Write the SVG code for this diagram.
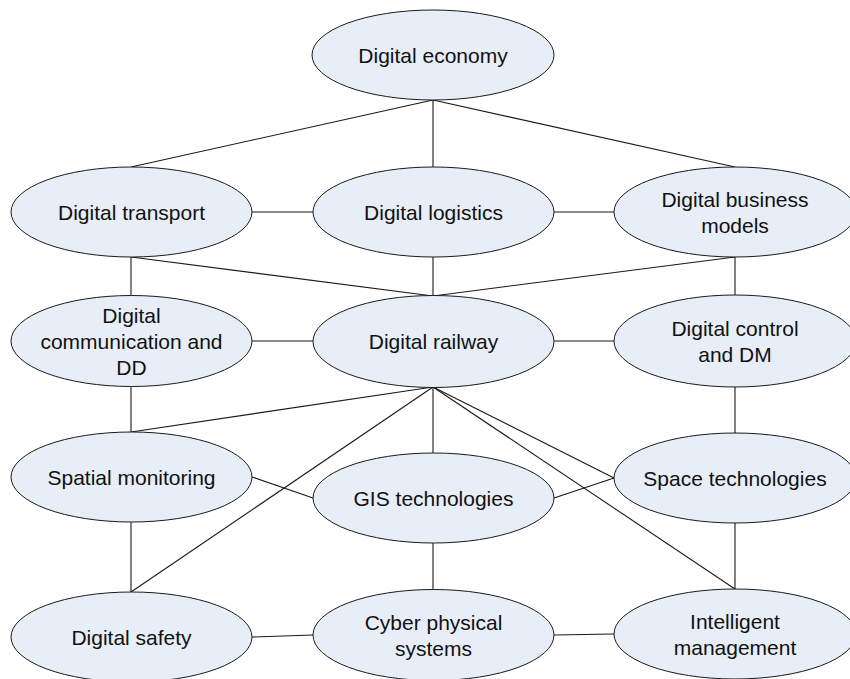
<svg xmlns="http://www.w3.org/2000/svg" width="850" height="679" viewBox="0 0 850 679">
  <style>
    .node ellipse { fill: #e8eef7; stroke: #1a1a1a; stroke-width: 1; }
    .node text { font-family: "Liberation Sans", Arial, sans-serif; font-size: 21px; fill: #111; text-anchor: middle; }
    #connectors line { stroke: #1a1a1a; stroke-width: 1.1; }
  </style>
  <rect width="850" height="679" fill="#ffffff"/>

  <g id="connectors">
    <line x1="433" y1="100" x2="131" y2="167"/>
    <line x1="433" y1="100" x2="433" y2="167"/>
    <line x1="433" y1="100" x2="735" y2="167"/>
    <line x1="252" y1="212" x2="313" y2="212"/>
    <line x1="554" y1="212" x2="614" y2="212"/>
    <line x1="131" y1="257" x2="433" y2="296"/>
    <line x1="433" y1="257" x2="433" y2="296"/>
    <line x1="735" y1="257" x2="433" y2="296"/>
    <line x1="131" y1="257" x2="131" y2="296"/>
    <line x1="735" y1="257" x2="735" y2="296"/>
    <line x1="252" y1="341" x2="313" y2="341"/>
    <line x1="554" y1="341" x2="614" y2="341"/>
    <line x1="131" y1="387" x2="131" y2="432"/>
    <line x1="735" y1="387" x2="735" y2="433"/>
    <line x1="433" y1="387" x2="131" y2="432"/>
    <line x1="433" y1="387" x2="131" y2="592"/>
    <line x1="433" y1="387" x2="433" y2="453"/>
    <line x1="433" y1="387" x2="614" y2="478"/>
    <line x1="433" y1="387" x2="735" y2="589"/>
    <line x1="252" y1="477" x2="313" y2="498"/>
    <line x1="554" y1="498" x2="614" y2="478"/>
    <line x1="131" y1="522" x2="131" y2="592"/>
    <line x1="735" y1="523" x2="735" y2="589"/>
    <line x1="433" y1="543" x2="433" y2="590"/>
    <line x1="252" y1="637" x2="313" y2="635"/>
    <line x1="554" y1="635" x2="614" y2="634"/>
  </g>

  <g id="digital-economy" class="node">
    <ellipse cx="433" cy="55" rx="121" ry="45"/>
    <text x="433" y="62.5">Digital economy</text>
  </g>

  <g id="digital-transport" class="node">
    <ellipse cx="131.5" cy="212" rx="120.5" ry="45"/>
    <text x="131.5" y="219.5">Digital transport</text>
  </g>
  <g id="digital-logistics" class="node">
    <ellipse cx="433.5" cy="212" rx="120.5" ry="45"/>
    <text x="433.5" y="219.5">Digital logistics</text>
  </g>
  <g id="digital-business-models" class="node">
    <ellipse cx="735" cy="212" rx="121" ry="45"/>
    <text x="735" y="206.5">Digital business</text>
    <text x="735" y="232.5">models</text>
  </g>

  <g id="digital-communication" class="node">
    <ellipse cx="131.5" cy="341" rx="120.5" ry="45.5"/>
    <text x="131.5" y="322.5">Digital</text>
    <text x="131.5" y="348.5">communication and</text>
    <text x="131.5" y="374.5">DD</text>
  </g>
  <g id="digital-railway" class="node">
    <ellipse cx="433.5" cy="341.5" rx="120.5" ry="46"/>
    <text x="433.5" y="349">Digital railway</text>
  </g>
  <g id="digital-control" class="node">
    <ellipse cx="735" cy="341" rx="121" ry="46"/>
    <text x="735" y="335.5">Digital control</text>
    <text x="735" y="361.5">and DM</text>
  </g>

  <g id="spatial-monitoring" class="node">
    <ellipse cx="131.5" cy="477" rx="120.5" ry="45"/>
    <text x="131.5" y="484.5">Spatial monitoring</text>
  </g>
  <g id="gis-technologies" class="node">
    <ellipse cx="433.5" cy="498" rx="120.5" ry="45"/>
    <text x="433.5" y="505.5">GIS technologies</text>
  </g>
  <g id="space-technologies" class="node">
    <ellipse cx="735" cy="478" rx="121" ry="45"/>
    <text x="735" y="485.5">Space technologies</text>
  </g>

  <g id="digital-safety" class="node">
    <ellipse cx="131.5" cy="637" rx="120.5" ry="45"/>
    <text x="131.5" y="644.5">Digital safety</text>
  </g>
  <g id="cyber-physical-systems" class="node">
    <ellipse cx="433.5" cy="635" rx="120.5" ry="45.5"/>
    <text x="433.5" y="629.5">Cyber physical</text>
    <text x="433.5" y="655.5">systems</text>
  </g>
  <g id="intelligent-management" class="node">
    <ellipse cx="735" cy="634" rx="121" ry="45"/>
    <text x="735" y="628.5">Intelligent</text>
    <text x="735" y="654.5">management</text>
  </g>
</svg>
